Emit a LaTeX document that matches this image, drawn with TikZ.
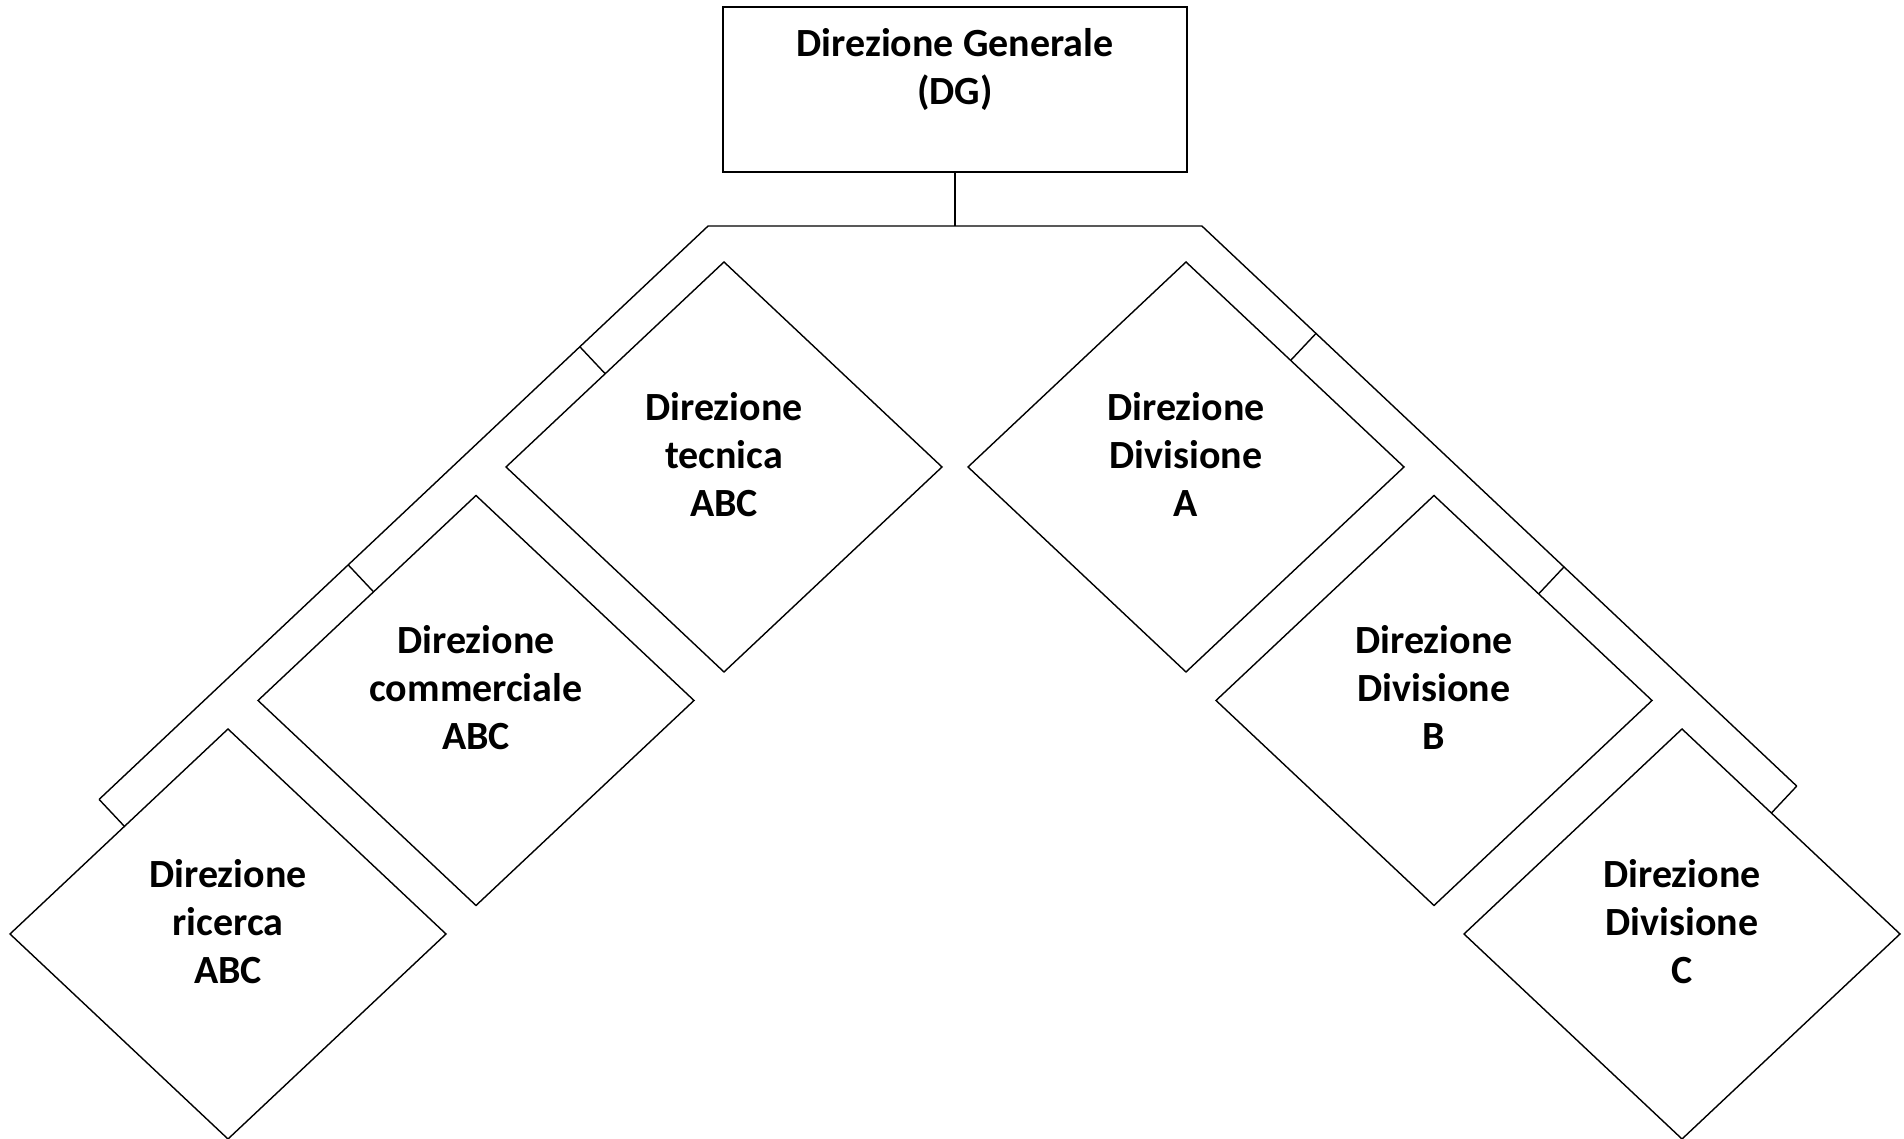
\documentclass[tikz,border=0pt]{standalone}
\usepackage{fontspec}
\setmainfont{Carlito}
\usepackage{tikz}
\usetikzlibrary{calc,positioning,shapes.geometric}
\tikzstyle{line} = [line width=1.4pt]

\begin{document}
\begin{tikzpicture}[x=1pt, y=1pt]
\tikzset{%
	head/.style = { rectangle, draw=black, line width=1.4pt, outer sep=0pt, minimum width=464pt, minimum height=165pt, align=center, text height=76pt, text depth=45pt, font=\bfseries\fontsize{40}{48}\selectfont },
	office/.style = { diamond, draw=black, line width=1.4pt, inner sep=0pt, outer sep=0pt, minimum width=436pt, minimum height=410pt, align=center, text height=124pt, text depth=25pt, font=\bfseries\fontsize{40}{48}\selectfont }
}
\useasboundingbox (0,0) rectangle (1904,1139);

\node(GenBox)		[head] at (955,1049.5)
							{Direzione Generale\\(DG)};

\node(Tec)			[office] at (724,672)
							{Direzione\\tecnica\\ABC};
\node(Comm)			[office] at ($(Tec)+(-248,-233.5)$)
							{Direzione\\commerciale\\ABC};
\node(Ric)			[office] at ($(Comm)+(-248,-233.5)$)
							{Direzione\\ricerca\\ABC};

\node(DivA)			[office, right=26pt of Tec.east]
							{Direzione\\Divisione\\A};
\node(DivB)			[office] at ($(DivA)+(248,-233.5)$)
							{Direzione\\Divisione\\B};
\node(DivC)			[office] at ($(DivB)+(248,-233.5)$)
							{Direzione\\Divisione\\C};

% tick points on the upper edges
\coordinate (TecE)	at ($(Tec.north)!0.545!(Tec.west)$);
\coordinate (CommE)	at ($(Comm.north)!0.47!(Comm.west)$);
\coordinate (RicE)	at ($(Ric.north)!0.475!(Ric.west)$);
\coordinate (DivAE)	at ($(DivA.north)!0.48!(DivA.east)$);
\coordinate (DivBE)	at ($(DivB.north)!0.48!(DivB.east)$);
\coordinate (DivCE)	at ($(DivC.north)!0.41!(DivC.east)$);

\coordinate (TecK)	at ($(TecE)!37pt!90:(Tec.north)$);
\coordinate (CommK)	at ($(CommE)!37pt!90:(Comm.north)$);
\coordinate (RicK)	at ($(RicE)!37pt!90:(Ric.north)$);
\coordinate (DivAK)	at ($(DivAE)!37pt!-90:(DivA.north)$);
\coordinate (DivBK)	at ($(DivBE)!37pt!-90:(DivB.north)$);
\coordinate (DivCK)	at ($(DivCE)!37pt!-90:(DivC.north)$);

\coordinate (Bus)	at ($(GenBox.south)+(0,-54)$);
\coordinate (BusW)	at ($(Bus)+(-100,0)$);
\coordinate (BusL)	at (intersection of TecK--RicK and Bus--BusW);
\coordinate (BusR)	at (intersection of DivAK--DivCK and Bus--BusW);

\draw [line]		(GenBox) -- (Bus);
\draw [line]		(RicK) -- (BusL) -- (BusR) -- (DivCK);

\draw [line]		(TecK) -- (TecE);
\draw [line]		(CommK) -- (CommE);
\draw [line]		(RicK) -- (RicE);
\draw [line]		(DivAK) -- (DivAE);
\draw [line]		(DivBK) -- (DivBE);
\draw [line]		(DivCK) -- (DivCE);

\end{tikzpicture}
\end{document}
